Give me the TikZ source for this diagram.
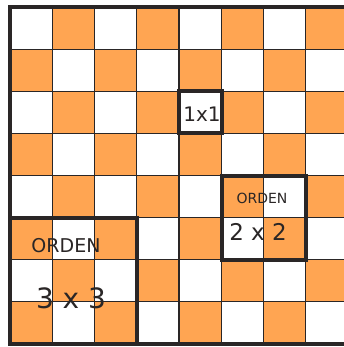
\documentclass[tikz,border=0pt]{standalone}
\usepackage{fontspec}
\setsansfont{DejaVu Sans}
\definecolor{cellorange}{HTML}{FFA552}
\definecolor{gridline}{HTML}{2A2626}
\begin{document}
\begin{tikzpicture}[x=1pt,y=-1pt,
  cellbox/.style={fill=cellorange},
  thinline/.style={draw=gridline,line width=1.3pt},
  thickframe/.style={draw=gridline,line width=4pt},
  handtext/.style={text=gridline,font=\sffamily\fontsize{#1}{#1}\selectfont,inner sep=0pt},
  handtext/.default=12]
\useasboundingbox (0,0) rectangle (344,347);
\begin{scope}
\clip (0,0) rectangle (344,347);
\fill[white] (0,0) rectangle (344,347);
\foreach \i in {0,...,7}{
  \foreach \j in {0,...,7}{
    \pgfmathtruncatemacro{\parity}{mod(\i+\j,2)}
    \ifnum\parity=1
      \fill[cellorange] ({10+42.25*\i},{7.5+42*\j}) rectangle ({10+42.25*(\i+1)},{7.5+42*(\j+1)});
    \fi
  }
}
\foreach \i in {1,...,7}{
  \draw[thinline] ({10+42.25*\i},7.5) -- ({10+42.25*\i},343.5);
}
\foreach \j in {1,...,7}{
  \draw[thinline] (10,{7.5+42*\j}) -- (360,{7.5+42*\j});
}
\draw[thickframe] (360,7.5) -- (10,7.5) -- (10,343.5) -- (360,343.5);
% highlighted blocks
\draw[thickframe] (179,91.5) rectangle (221.5,133.5);
\draw[thickframe] (221.5,175.5) rectangle (306,259.5);
\draw[thickframe] (10,217.5) rectangle (137,343.5);
\end{scope}
\node[handtext=20] (t1) at (202,114) {1x1};
\node[handtext=14] (o2) at (262,198.5) {ORDEN};
\node[handtext=23] (t2) at (258,231.5) {2 x 2};
\node[handtext=19] (o3) at (66,246) {ORDEN};
\node[handtext=28] (t3) at (71,298) {3 x 3};
\end{tikzpicture}
\end{document}
